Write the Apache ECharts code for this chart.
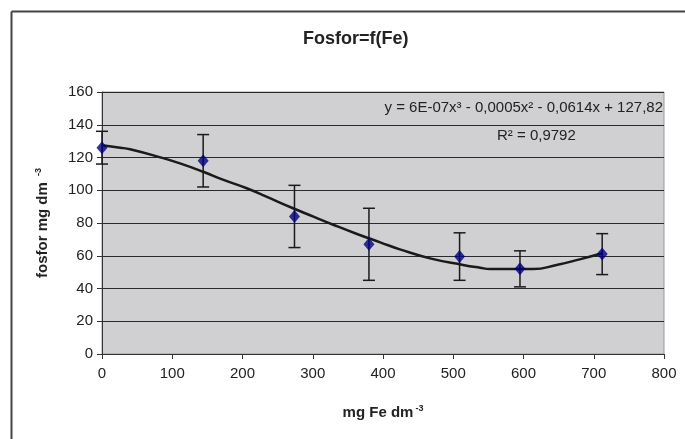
<!DOCTYPE html>
<html>
<head>
<meta charset="utf-8">
<script src="https://cdn.jsdelivr.net/npm/echarts@6/dist/echarts.min.js"></script>
<style>
  html, body { margin: 0; padding: 0; background: #ffffff; }
  #chart { width: 685px; height: 439px; }
</style>
</head>
<body>
<div id="chart"></div>
<script>
// mg Fe dm-3 (x) and fosfor mg dm-3 (y), with error bar half-widths
var feX = [0, 144, 274, 380, 509, 595, 712];
var fosfor = [126, 118, 84, 67, 59.5, 52, 61];
var fosforErr = [10, 16, 19, 22, 14.5, 11, 12.5];

// trend line
var trendX = [0, 26, 40, 83, 111, 144, 173, 206, 234, 272, 301, 330, 363, 396, 424, 467, 514, 538, 552, 614, 647, 680, 712];
var trendY = [127.5, 126, 125, 120.1, 116.4, 111.3, 106.3, 101.2, 96.1, 89, 83.9, 78.8, 73.3, 68.2, 63.9, 58.4, 54.4, 52.7, 51.9, 51.9, 54.4, 57.8, 61.5];

var xTicks = [0, 100, 200, 300, 400, 500, 600, 700, 800];
var yTicks = [0, 20, 40, 60, 80, 100, 120, 140, 160];

var font = "'Liberation Sans', Arial, sans-serif";

var points = feX.map(function (x, i) { return [x, fosfor[i]]; });
var bars = feX.map(function (x, i) { return [x, fosfor[i] - fosforErr[i], fosfor[i] + fosforErr[i]]; });
var trend = trendX.map(function (x, i) { return [x, trendY[i]]; });

var chart = echarts.init(document.getElementById("chart"));
chart.setOption({
  backgroundColor: "#ffffff",
  animation: false,
  title: {
    text: "Fosfor=f(Fe)",
    left: 298,
    top: 25,
    textStyle: { fontFamily: font, fontSize: 18, fontWeight: "bold", color: "#222" }
  },
  grid: {
    left: 102,
    right: 21,
    top: 92,
    bottom: 85,
    show: true,
    backgroundColor: "#d0d0d2",
    borderColor: "#9a9a9a",
    borderWidth: 1
  },
  xAxis: {
    type: "value",
    min: xTicks[0],
    max: xTicks[xTicks.length - 1],
    interval: 100,
    name: "{a|mg Fe dm}{s|-3}",
    nameLocation: "middle",
    nameGap: 50,
    nameTextStyle: {
      rich: {
        a: { fontFamily: font, fontSize: 15, fontWeight: "bold", color: "#222" },
        s: { fontFamily: font, fontSize: 9, fontWeight: "bold", color: "#222", verticalAlign: "top", padding: [0, 0, 8, 2] }
      }
    },
    axisLine: { show: true, lineStyle: { color: "#333", width: 1 } },
    axisTick: { show: true, length: 5, lineStyle: { color: "#333" } },
    axisLabel: { margin: 12, fontFamily: font, fontSize: 15, color: "#222" },
    splitLine: { show: false }
  },
  yAxis: {
    type: "value",
    min: yTicks[0],
    max: yTicks[yTicks.length - 1],
    interval: 20,
    name: "{a|fosfor mg dm }{s|-3}",
    nameLocation: "middle",
    nameGap: 51,
    nameRotate: 90,
    nameTextStyle: {
      rich: {
        a: { fontFamily: font, fontSize: 15, fontWeight: "bold", color: "#222" },
        s: { fontFamily: font, fontSize: 9, fontWeight: "bold", color: "#222", verticalAlign: "top", padding: [0, 0, 8, 2] }
      }
    },
    axisLine: { show: true, lineStyle: { color: "#333", width: 1 } },
    axisTick: { show: true, length: 5, lineStyle: { color: "#333" } },
    axisLabel: { margin: 9, fontFamily: font, fontSize: 15, color: "#222" },
    splitLine: { show: true, lineStyle: { color: "#2a2a2a", width: 1 } }
  },
  graphic: [
    { type: "line", shape: { x1: 11.5, y1: 11.5, x2: 685, y2: 11.5 }, style: { stroke: "#444", lineWidth: 2 } },
    { type: "line", shape: { x1: 11.5, y1: 11.5, x2: 11.5, y2: 439 }, style: { stroke: "#444", lineWidth: 2 } },
    {
      type: "text", right: 22, top: 100,
      style: { text: "y = 6E-07x³ - 0,0005x² - 0,0614x + 127,82", fontFamily: font, fontSize: 15, fill: "#222" }
    },
    {
      type: "text", left: 497, top: 128,
      style: { text: "R² = 0,9792", fontFamily: font, fontSize: 15, fill: "#222" }
    }
  ],
  series: [
    {
      type: "line",
      data: trend,
      smooth: true,
      showSymbol: false,
      symbol: "none",
      lineStyle: { color: "#1a1a1a", width: 2.5 },
      z: 2
    },
    {
      type: "custom",
      data: bars,
      z: 3,
      renderItem: function (params, api) {
        var top = api.coord([api.value(0), api.value(2)]);
        var bot = api.coord([api.value(0), api.value(1)]);
        var w = 6;
        var st = { stroke: "#1a1a1a", lineWidth: 1.5 };
        return {
          type: "group",
          children: [
            { type: "line", shape: { x1: top[0], y1: top[1], x2: bot[0], y2: bot[1] }, style: st },
            { type: "line", shape: { x1: top[0] - w, y1: top[1], x2: top[0] + w, y2: top[1] }, style: st },
            { type: "line", shape: { x1: bot[0] - w, y1: bot[1], x2: bot[0] + w, y2: bot[1] }, style: st }
          ]
        };
      }
    },
    {
      type: "scatter",
      data: points,
      symbol: "diamond",
      symbolSize: [11, 13],
      itemStyle: { color: "#000080" },
      z: 4
    }
  ]
});
</script>
</body>
</html>
